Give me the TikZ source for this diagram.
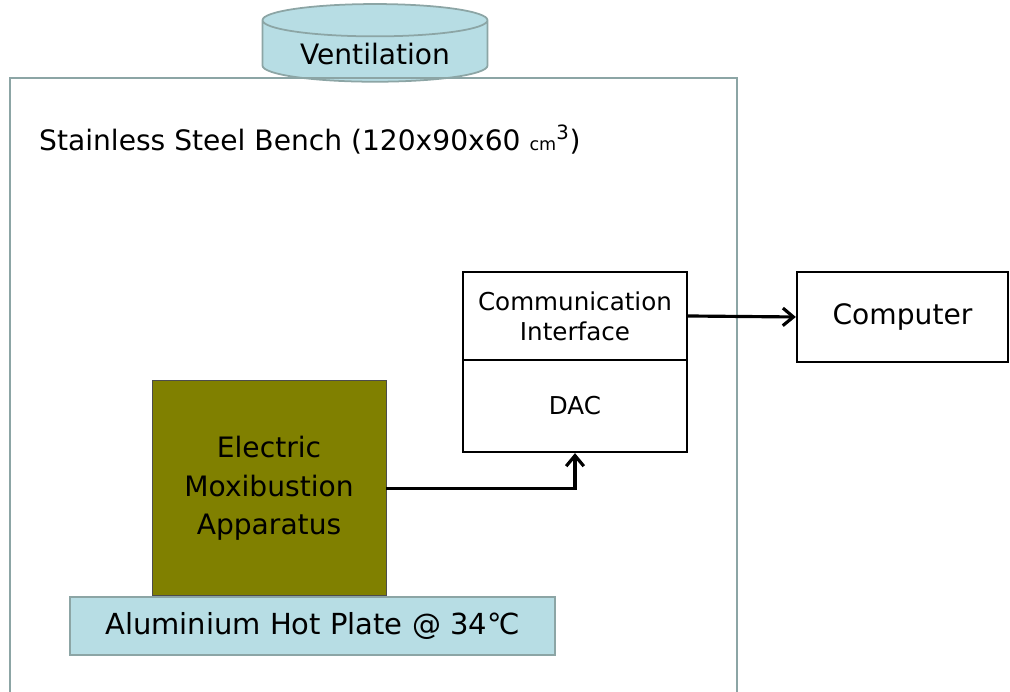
\documentclass[tikz,border=0pt]{standalone}
\usepackage{fontspec}
\setmainfont{DejaVu Sans}
\usepackage{tikz}
\usetikzlibrary{shapes.geometric, arrows.meta, positioning}
\definecolor{plateBlue}{RGB}{183, 221, 228}
\definecolor{benchGray}{RGB}{140, 165, 165}
\definecolor{moxiOlive}{RGB}{128, 128, 0}

\begin{document}
\begin{tikzpicture}[
  box/.style={rectangle, draw=black, line width=1.3pt, fill=white,
              align=center, font=\fontsize{14}{17}\selectfont},
  plate/.style={rectangle, draw=benchGray, line width=1pt, fill=plateBlue,
                font=\fontsize{16.5}{19}\selectfont},
  arrow/.style={-{Straight Barb[length=6pt, width=10pt]}, line width=1.8pt},
]
  \useasboundingbox (0,0) rectangle (20.2,13.84);

  % Ventilation on top
  \node[cylinder, shape border rotate=90, aspect=0.2, draw=benchGray, line width=1pt,
        fill=plateBlue, minimum width=4.5cm, minimum height=1.24cm,
        font=\fontsize{16}{19}\selectfont] (vent) at (7.5,12.76) {Ventilation};

  % Bench outline
  \draw[benchGray, line width=1.3pt] (0.2,0) |- (14.74,12.28) -- (14.74,0);
  \node[anchor=west, font=\fontsize{16}{19}\selectfont] (bench) at (0.66,11.04)
    {Stainless Steel Bench (120x90x60 {\fontsize{10}{11}\selectfont cm}\textsuperscript{3})};

  % Interface and DAC
  \node[box, minimum width=4.48cm, minimum height=1.76cm] (comm) at (11.5,7.52)
    {Communication\\Interface};
  \node[box, minimum width=4.48cm, minimum height=1.84cm, below=-1.3pt of comm] (dac) {DAC};

  % Computer
  \node[box, minimum width=4.22cm, minimum height=1.8cm,
        font=\fontsize{16}{19}\selectfont] (pc) at (18.05,7.5) {Computer};

  % Apparatus and hot plate
  \node[plate, minimum width=9.7cm, minimum height=1.16cm] (hot) at (6.25,1.32)
    {Aluminium Hot Plate @ 34℃};
  \node[rectangle, draw=black!70, fill=moxiOlive, minimum width=4.68cm, minimum height=4.3cm,
        align=center, font=\fontsize{16}{22}\selectfont, above=0pt of hot.north, xshift=-0.87cm] (moxi)
    {Electric\\Moxibustion\\Apparatus};

  \draw[arrow] (moxi.east) -| (dac.south);
  \draw[arrow] (comm.east) -- (pc.west);
\end{tikzpicture}
\end{document}
